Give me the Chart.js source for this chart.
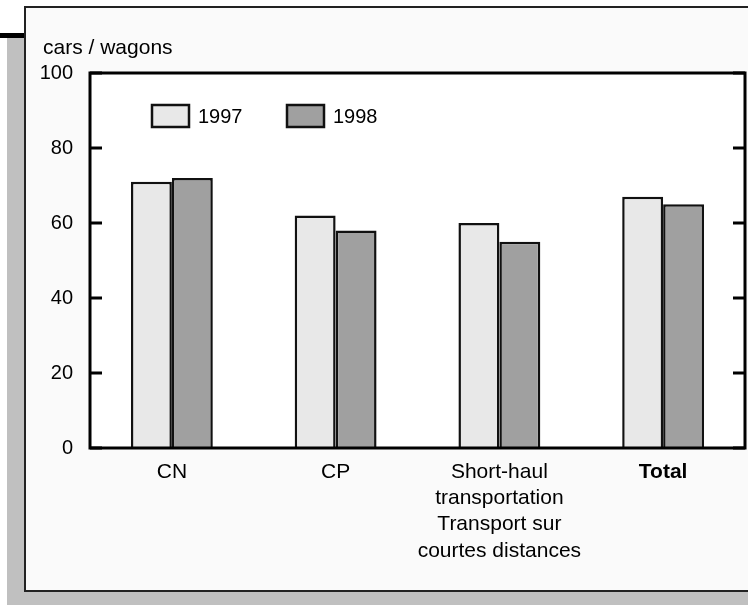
<!DOCTYPE html>
<html>
<head>
<meta charset="utf-8">
<script src="https://cdn.jsdelivr.net/npm/chart.js@4"></script>
<style>
  html, body { margin: 0; padding: 0; background: #fff; }
  #wrap { width: 748px; height: 605px; }
</style>
</head>
<body>
<div id="wrap"><canvas id="grafico" width="748" height="605"></canvas></div>
<script>
// dados
const categorias = ["CN", "CP", ["Short-haul", "transportation", "Transport sur", "courtes distances"], "Total"];
const anos = ["1997", "1998"];
const valores1997 = [71, 62, 60, 67];
const valores1998 = [72, 58, 55, 65];
const cores = ["#e8e8e8", "#a0a0a0"];
const ticksY = [0, 20, 40, 60, 80, 100];
const tituloY = "cars / wagons";

const fonte = "'Liberation Sans', Arial, sans-serif";

// moldura, sombra, caixa do grafico, ticks pra dentro, legenda e titulo
const moldura = {
  id: "moldura",
  beforeDraw(chart) {
    const ctx = chart.ctx;
    ctx.save();
    ctx.fillStyle = "#ffffff";
    ctx.fillRect(0, 0, 748, 605);
    // sombra cinza
    ctx.fillStyle = "#c0c0c0";
    ctx.fillRect(7, 37, 20, 568);
    ctx.fillRect(7, 590, 741, 15);
    // linha preta no canto
    ctx.fillStyle = "#000";
    ctx.fillRect(0, 33, 27, 5);
    // quadro
    ctx.fillStyle = "#fafafa";
    ctx.fillRect(25, 7, 730, 584);
    ctx.strokeStyle = "#222";
    ctx.lineWidth = 2;
    ctx.strokeRect(25, 7, 730, 584);
    // area do grafico branca
    const a = chart.chartArea;
    ctx.fillStyle = "#ffffff";
    ctx.fillRect(a.left, a.top, a.right - a.left, a.bottom - a.top);
    ctx.restore();
  },
  afterDatasetsDraw(chart) {
    const ctx = chart.ctx;
    const a = chart.chartArea;
    const y = chart.scales.y;
    ctx.save();
    ctx.strokeStyle = "#000";
    ctx.lineWidth = 3;
    ctx.strokeRect(a.left, a.top, a.right - a.left, a.bottom - a.top);
    ticksY.forEach(v => {
      const py = y.getPixelForValue(v);
      ctx.beginPath();
      ctx.moveTo(a.left, py);
      ctx.lineTo(a.left + 12, py);
      ctx.moveTo(a.right, py);
      ctx.lineTo(a.right - 12, py);
      ctx.stroke();
    });
    ctx.restore();
  },
  afterDraw(chart) {
    const ctx = chart.ctx;
    ctx.save();
    ctx.fillStyle = "#000";
    ctx.font = "21px " + fonte;
    ctx.textBaseline = "alphabetic";
    ctx.textAlign = "left";
    ctx.fillText(tituloY, 43, 54);
    // legenda
    const posX = [152, 287];
    ctx.font = "20px " + fonte;
    chart.data.datasets.forEach((ds, i) => {
      ctx.fillStyle = ds.backgroundColor;
      ctx.fillRect(posX[i], 105, 37, 22);
      ctx.strokeStyle = "#111";
      ctx.lineWidth = 2.5;
      ctx.strokeRect(posX[i], 105, 37, 22);
      ctx.fillStyle = "#000";
      ctx.textBaseline = "middle";
      ctx.fillText(ds.label, posX[i] + 46, 117);
    });
    ctx.restore();
  }
};

new Chart(document.getElementById("grafico"), {
  type: "bar",
  data: {
    labels: categorias,
    datasets: [
      { label: anos[0], data: valores1997, backgroundColor: cores[0], borderColor: "#111", borderWidth: 2.5 },
      { label: anos[1], data: valores1998, backgroundColor: cores[1], borderColor: "#111", borderWidth: 2.5 }
    ]
  },
  options: {
    responsive: false,
    animation: false,
    layout: { padding: { left: 30, top: 73, right: 3, bottom: 47 } },
    datasets: { bar: { categoryPercentage: 0.5, barPercentage: 1.0 } },
    plugins: {
      legend: { display: false },
      title: { display: false },
      tooltip: { enabled: false }
    },
    scales: {
      x: {
        grid: { display: false, drawTicks: false },
        border: { display: false },
        afterFit: s => { s.height = 110; },
        ticks: {
          color: "#000",
          padding: 11,
          maxRotation: 0,
          autoSkip: false,
          font: c => ({ family: fonte, size: 21, lineHeight: 1.25, weight: c.index === 3 ? "bold" : "normal" })
        }
      },
      y: {
        min: 0,
        max: 100,
        grid: { display: false, drawTicks: false },
        border: { display: false },
        afterFit: s => { s.width = 60; },
        afterBuildTicks: s => { s.ticks = ticksY.map(v => ({ value: v })); },
        ticks: {
          color: "#000",
          padding: 17,
          font: { family: fonte, size: 20 }
        }
      }
    }
  },
  plugins: [moldura]
});
</script>
</body>
</html>
